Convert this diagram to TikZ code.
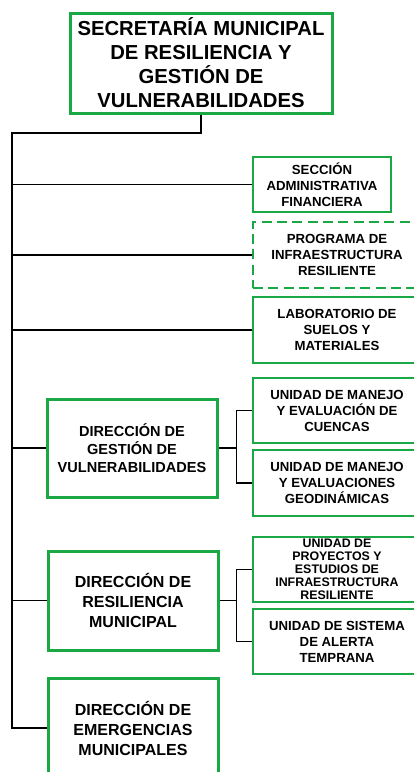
\documentclass[tikz,border=0pt]{standalone}
\usepackage{fontspec}
\setmainfont{Liberation Sans}
\definecolor{orggreen}{RGB}{26,168,68}
\begin{document}
\begin{tikzpicture}[x=0.75pt,y=-0.75pt,
    box/.style={draw=orggreen,line width=1.1pt,align=center,inner sep=1pt,font=\bfseries\fontsize{9.9}{12}\selectfont,minimum width=126pt,minimum height=49.5pt},
    bigbox/.style={draw=orggreen,line width=2.25pt,align=center,inner sep=1pt,minimum width=127.5pt,minimum height=74.25pt,font=\bfseries\fontsize{12}{15}\selectfont},
    conn/.style={line width=1.4pt}]
    \useasboundingbox (0,0) rectangle (414,772);
    \path (201,63) node [bigbox,minimum width=196.5pt,minimum height=75pt,font=\bfseries\fontsize{15.2}{18}\selectfont](sec){SECRETARÍA MUNICIPAL\\DE RESILIENCIA Y\\GESTIÓN DE\\VULNERABILIDADES};
    \path (322,184.5) node [box,minimum width=103.5pt,minimum height=41.25pt](adm){SECCIÓN\\ADMINISTRATIVA\\FINANCIERA};
    \path (337,255) node [box,dashed,dash pattern=on 7.5pt off 4pt](prog){PROGRAMA DE\\INFRAESTRUCTURA\\RESILIENTE};
    \path (337,330) node [box](lab){LABORATORIO DE\\SUELOS Y\\MATERIALES};
    \path (132,448) node [bigbox,minimum height=73.5pt,font=\bfseries\fontsize{10.9}{13.5}\selectfont](dgv){DIRECCIÓN DE\\GESTIÓN DE\\VULNERABILIDADES};
    \path (337,410.5) node [box,minimum height=48.75pt](cue){UNIDAD DE MANEJO\\Y EVALUACIÓN DE\\CUENCAS};
    \path (337,483) node [box](geo){UNIDAD DE MANEJO\\Y EVALUACIONES\\GEODINÁMICAS};
    \path (133,600.5) node [bigbox](drm){DIRECCIÓN DE\\RESILIENCIA\\MUNICIPAL};
    \path (337,569.5) node [box,minimum height=48.75pt,font=\bfseries\fontsize{9.3}{9.75}\selectfont](pro){UNIDAD DE\\PROYECTOS Y\\ESTUDIOS DE\\INFRAESTRUCTURA\\RESILIENTE};
    \path (337,641.5) node [box,minimum height=48.75pt](ale){UNIDAD DE SISTEMA\\DE ALERTA\\TEMPRANA};
    \path (133,728) node [bigbox,minimum height=75pt](dem){DIRECCIÓN DE\\EMERGENCIAS\\MUNICIPALES};

    % tronco principal
    \coordinate (trunk) at (12,133);
    \draw[conn] (sec.south) |- (trunk) -- (trunk |- dem.west) -- (dem.west);
    \foreach \n in {adm,prog,lab,dgv,drm}
      \draw[conn] (trunk |- \n.west) -- (\n.west);

    % unidades
    \draw[conn] (dgv.east) -- ++(18,0) coordinate (dgvj);
    \draw[conn] (cue.west) -| (dgvj) |- (geo.west);
    \draw[conn] (drm.east) -- ++(17,0) coordinate (drmj);
    \draw[conn] (pro.west) -| (drmj) |- (ale.west);
  \end{tikzpicture}
\end{document}
